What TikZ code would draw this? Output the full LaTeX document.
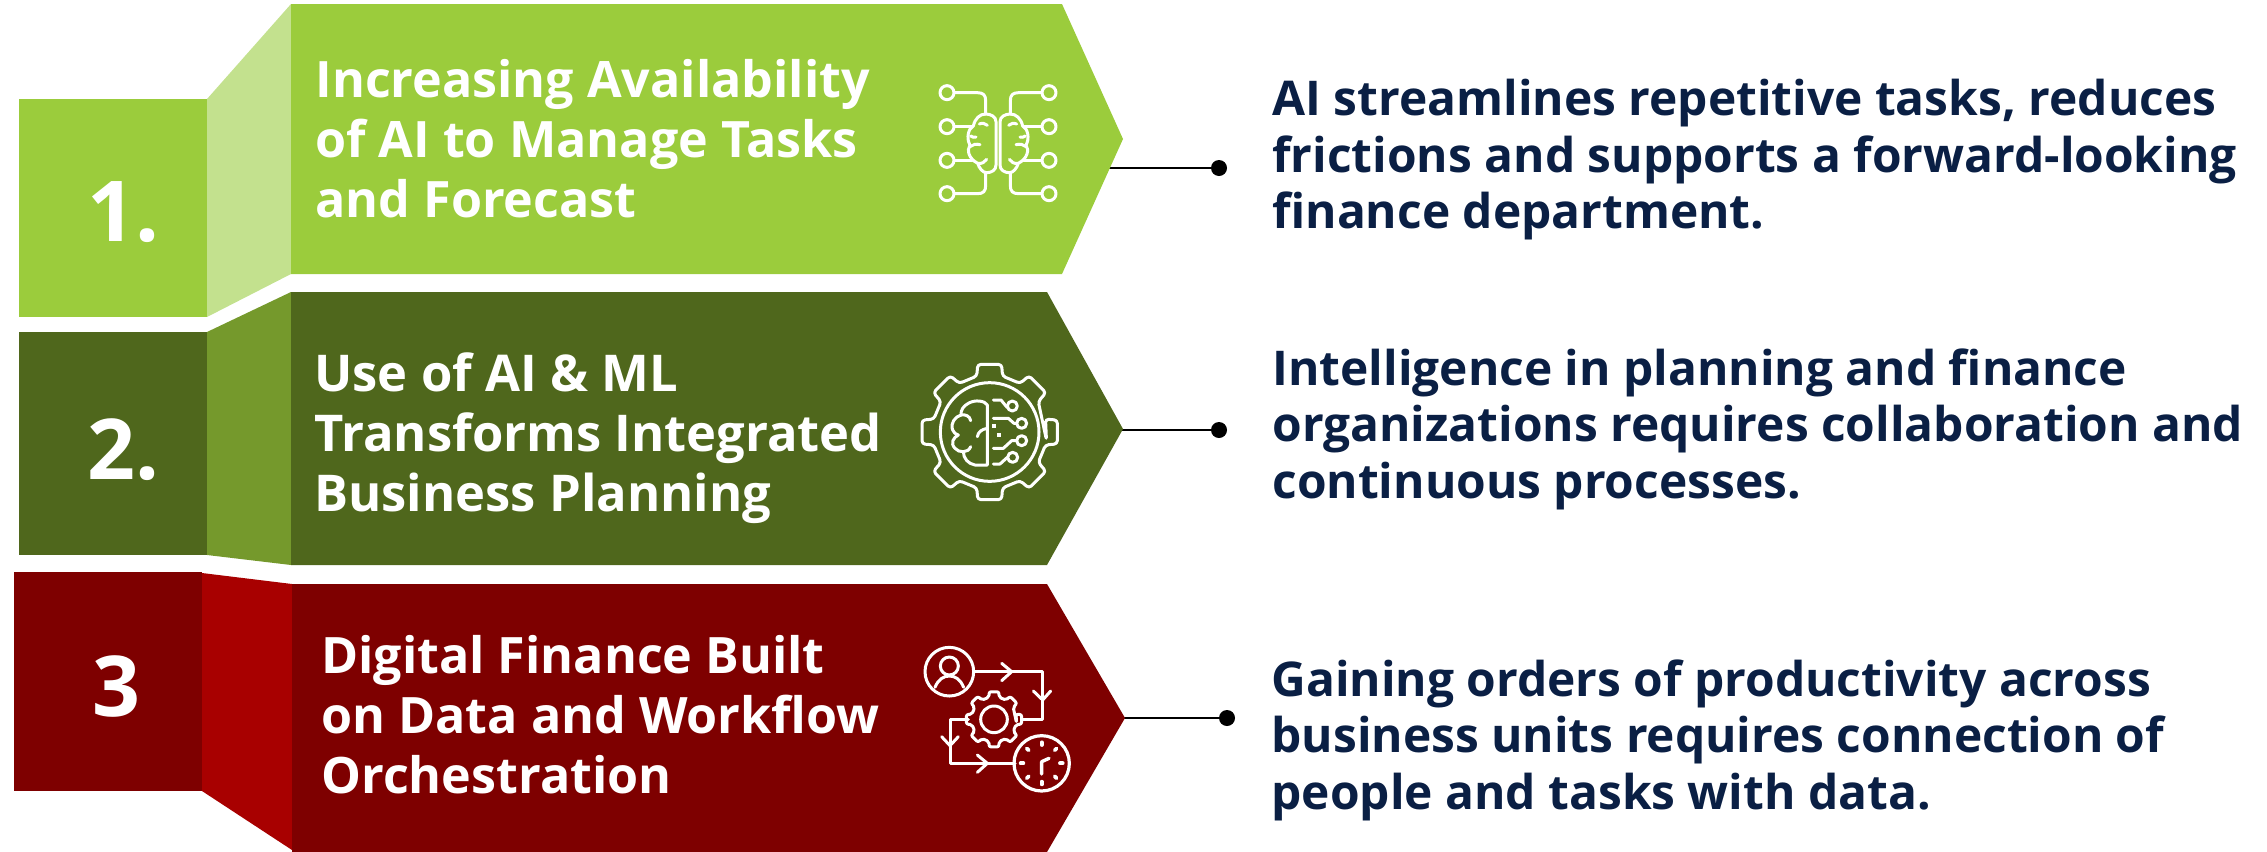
\documentclass[tikz,border=0pt]{standalone}
\usepackage{fontspec}
\setmainfont{Open Sans}
\definecolor{gA}{HTML}{9BCC3C}
\definecolor{gAl}{HTML}{C3E18E}
\definecolor{gB}{HTML}{4F671C}
\definecolor{gBl}{HTML}{75992C}
\definecolor{rA}{HTML}{7E0000}
\definecolor{rAl}{HTML}{A80000}
\definecolor{navy}{HTML}{0A1F44}
\tikzset{
  head/.style={font=\fontsize{25.1pt}{30pt}\selectfont\bfseries,text=white,align=left,anchor=north west,inner sep=0pt},
  headb/.style={head,font=\fontsize{25.35pt}{30pt}\selectfont\bfseries},
  body/.style={font=\fontsize{23.95pt}{28.3pt}\selectfont\bfseries,text=navy,align=left,anchor=north west,inner sep=0pt},
  num/.style={font=\fontsize{42pt}{50pt}\selectfont\bfseries,text=white,anchor=base,inner sep=0pt},
  dot/.style={circle,fill=black,minimum size=8pt,inner sep=0pt},
  link/.style={draw=black,line width=0.55pt},
  ico/.style={draw=white,line width=1.5pt,line cap=round,line join=round},
  halfbrain/.pic={
    \foreach \yy in {128,230,331,431} \draw[ico] (141,\yy) circle[radius=21];
    \draw[ico] (165,128) -- (232,128) .. controls (250,128) and (257,135) .. (257,153) -- (257,192);
    \draw[ico] (165,230) -- (217,230);
    \draw[ico] (165,331) -- (217,331);
    \draw[ico] (165,431) -- (232,431) .. controls (250,431) and (257,424) .. (257,406) -- (257,368);
    \draw[ico] (288,345) -- (288,215) .. controls (288,200) and (272,192) .. (257,192) .. controls (240,192) and (225,205) .. (220,228) .. controls (205,235) and (198,265) .. (210,285) .. controls (200,300) and (205,325) .. (233,340) .. controls (238,355) and (248,368) .. (260,368) .. controls (275,368) and (288,360) .. (288,345);
    \draw[ico] (238,222) .. controls (248,218) and (255,220) .. (262,226);
    \draw[ico] (212,258) .. controls (218,262) and (222,263) .. (228,261);
    \draw[ico] (210,290) .. controls (218,283) and (228,281) .. (240,284);
    \draw[ico] (235,340) .. controls (245,342) and (255,336) .. (260,328);
  }
}
\begin{document}
\begin{tikzpicture}[x=0.5pt,y=-0.5pt]
\useasboundingbox (0,0) rectangle (2267,852);
% connectors
\coordinate (s1) at (1105,168);
\coordinate (s2) at (1105,430);
\coordinate (s3) at (1105,718);
\node[dot] (d1) at (1219,168) {};
\node[dot] (d2) at (1219,430) {};
\node[dot] (d3) at (1227,718) {};
\draw[link] (s1) -- (d1);
\draw[link] (s2) -- (d2);
\draw[link] (s3) -- (d3);
% block 1
\fill[gAl] (207,99) -- (291,4) -- (291,274) -- (207,317) -- cycle;
\fill[gA] (19,99) rectangle (207,317);
\fill[gA] (291,4) -- (1062,4) -- (1123,139) -- (1062,274) -- (291,274) -- cycle;
% block 2
\fill[gBl] (207,332) -- (291,292) -- (291,565) -- (207,555) -- cycle;
\fill[gB] (19,332) rectangle (207,555);
\fill[gB] (291,292) -- (1047,292) -- (1123,429) -- (1047,565) -- (291,565) -- cycle;
% block 3
\fill[rAl] (202,573) -- (292,584) -- (292,850) -- (202,791) -- cycle;
\fill[rA] (14,572) rectangle (202,791);
\fill[rA] (292,584) -- (1047,584) -- (1125,718) -- (1047,852) -- (292,852) -- cycle;
% numbers
\node[num] (n1) at (123,241) {1.};
\node[num] (n2) at (123,479) {2.};
\node[num] (n3) at (116,716) {3};
% headings
\node[head] (h1) at (315,59) {Increasing Availability\\of AI to Manage Tasks\\and Forecast};
\node[headb] (h2) at (314,352) {Use of AI \& ML\\Transforms Integrated\\Business Planning};
\node[head] (h3) at (321,635) {Digital Finance Built\\on Data and Workflow\\Orchestration};
% body text
\node[body] (b1) at (1272,79) {AI streamlines repetitive tasks, reduces\\frictions and supports a forward-looking\\finance department.};
\node[body] (b2) at (1272,348) {Intelligence in planning and finance\\organizations requires collaboration and\\continuous processes.};
\node[body] (b3) at (1271,659) {Gaining orders of productivity across\\business units requires connection of\\people and tasks with data.};
% icon 1
\begin{scope}[shift={(900,50)},x=0.16667pt,y=-0.16667pt]
  \pic {halfbrain};
  \begin{scope}[shift={(588,0)},x=-0.16667pt]
    \pic {halfbrain};
  \end{scope}
\end{scope}
% icon 2
\begin{scope}[shift={(900,340)},x=0.16667pt,y=-0.16667pt]
  \begin{scope}[shift={(269,276)}]
    \draw[ico,rounded corners=1.6pt] (8:172) \foreach \a in {0,45,...,315} { -- (\a-13:172) -- (\a-10:206) -- (\a+10:206) -- (\a+13:172)} -- cycle;
    \draw[ico] (0,0) circle[radius=148];
  \end{scope}
  \draw[ico] (262,375) -- (262,195) .. controls (255,182) and (225,178) .. (205,190) .. controls (190,198) and (182,210) .. (183,225) .. controls (165,230) and (150,250) .. (158,270) .. controls (160,278) and (168,283) .. (175,285) .. controls (160,292) and (150,310) .. (165,325) .. controls (172,333) and (180,335) .. (190,335) .. controls (190,355) and (205,372) .. (225,375) -- (262,375);
  \draw[ico] (183,225) .. controls (195,222) and (210,228) .. (212,242);
  \draw[ico] (262,265) .. controls (245,268) and (235,275) .. (232,290);
  \draw[ico] (190,335) .. controls (200,335) and (208,330) .. (212,320);
  \draw[ico] (280,180) -- (303,180) -- (322,203);
  \draw[ico] (337,198) circle[radius=15];
  \draw[ico] (280,235) -- (325,235) -- (342,250) -- (350,250);
  \draw[ico] (365,250) circle[radius=15];
  \draw[ico] (280,325) -- (310,325) -- (335,302) -- (350,302);
  \draw[ico] (365,302) circle[radius=15];
  \draw[ico] (280,372) -- (300,372) -- (322,352);
  \draw[ico] (338,352) circle[radius=15];
  \fill[white] (277,251) rectangle (289,263);
  \fill[white] (291,279) rectangle (303,291);
\end{scope}
% icon 3
\begin{scope}[shift={(900,630)},x=0.16667pt,y=-0.16667pt]
  \draw[ico] (148,125) circle[radius=73];
  \draw[ico] (148,108) circle[radius=27];
  \draw[ico] (105,172) .. controls (115,148) and (130,138) .. (148,138) .. controls (166,138) and (181,148) .. (191,172);
  \draw[ico] (222,125) -- (428,125) -- (428,268) -- (365,268);
  \draw[ico] (305,100) -- (335,125) -- (305,152);
  \draw[ico] (400,183) -- (428,210) -- (452,183);
  \draw[ico] (205,268) -- (150,268) -- (150,400) -- (345,400);
  \draw[ico] (125,320) -- (150,347) -- (175,320);
  \draw[ico] (232,375) -- (262,400) -- (232,427);
  \begin{scope}[shift={(282,268)}]
    \draw[ico,rounded corners=1pt] (8:68) \foreach \a in {0,45,...,315} { -- (\a-13:68) -- (\a-10:84) -- (\a+10:84) -- (\a+13:68)} -- cycle;
    \draw[ico] (0,0) circle[radius=40];
  \end{scope}
  \begin{scope}[shift={(425,400)}]
    \draw[ico,line width=1.6pt] (0,0) circle[radius=83];
    \foreach \a in {0,45,...,315} \draw[ico,line width=1.9pt] (\a:55) -- (\a:63);
    \draw[ico,line width=1.7pt] (0,32) -- (0,-5) -- (22,-15);
  \end{scope}
\end{scope}
\end{tikzpicture}
\end{document}
